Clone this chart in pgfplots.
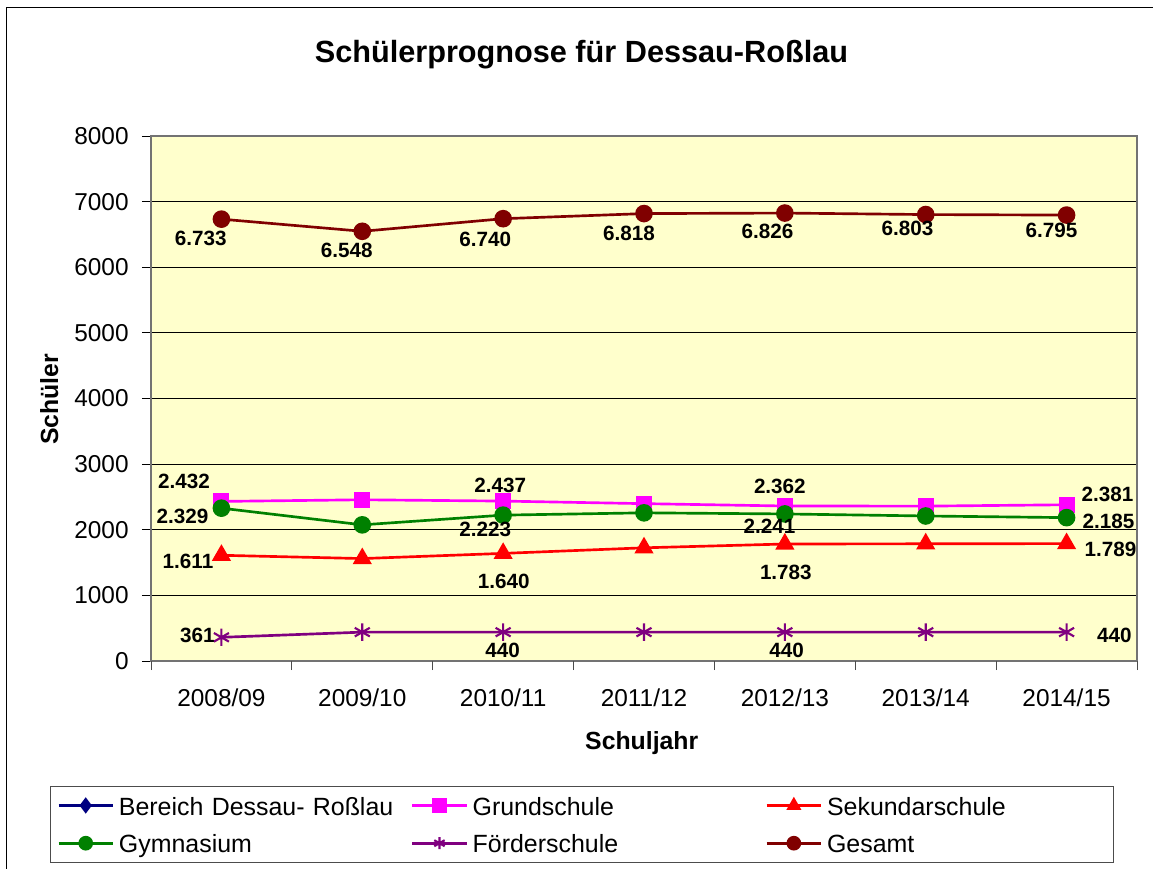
\documentclass[border=0pt]{standalone}
\usepackage{fontspec}
\setmainfont{Liberation Sans}
\usepackage{pgfplots}
\usepackage{pgfplotstable}
\pgfplotsset{compat=1.18}
\definecolor{bgyellow}{RGB}{255,255,204}
\definecolor{cnavy}{RGB}{0,0,128}
\definecolor{cmag}{RGB}{255,0,255}
\definecolor{cred}{RGB}{255,0,0}
\definecolor{cgreen}{RGB}{0,128,0}
\definecolor{cpurple}{RGB}{128,0,128}
\definecolor{cdred}{RGB}{128,0,0}

% series data: x index, value
\pgfplotstableread{
x y
0 2432
1 2457
2 2437
3 2398
4 2362
5 2360
6 2381
}\grund
\pgfplotstableread{
x y
0 1611
1 1561
2 1640
3 1725
4 1783
5 1786
6 1789
}\sek
\pgfplotstableread{
x y
0 2329
1 2075
2 2223
3 2258
4 2241
5 2210
6 2185
}\gym
\pgfplotstableread{
x y
0 361
1 440
2 440
3 440
4 440
5 440
6 440
}\foerder
\pgfplotstableread{
x y
0 6733
1 6548
2 6740
3 6818
4 6826
5 6803
6 6795
}\gesamt

% data labels: x, y, offset (px), text
\pgfplotstableread{
x y dx dy lab
0 2432 -37.4 19.7 2.432
2 2437 -3 16 2.437
4 2362 -5 20 2.362
6 2381 41 10.7 2.381
}\grundlab
\pgfplotstableread{
x y dx dy lab
0 1611 -33.4 -6.4 1.611
2 1640 0.7 -28.3 1.640
4 1783 1 -28.7 1.783
6 1789 44 -5.4 1.789
}\seklab
\pgfplotstableread{
x y dx dy lab
0 2329 -39 -7.8 2.329
2 2223 -18 -14 2.223
4 2241 -15.4 -12 2.241
6 2185 42 -3.4 2.185
}\gymlab
\pgfplotstableread{
x y dx dy lab
0 361 -24 2.3 361
2 440 -0.6 -18.6 440
4 440 1.8 -18.6 440
6 440 47.8 -2.9 440
}\foerderlab
\pgfplotstableread{
x y dx dy lab
0 6733 -20.6 -18.9 6.733
1 6548 -15.6 -19.4 6.548
2 6740 -18 -20.6 6.740
3 6818 -15 -19.4 6.818
4 6826 -17.4 -18.7 6.826
5 6803 -18.3 -13.5 6.803
6 6795 -15 -15 6.795
}\gesamtlab

\pgfplotsset{
  labelplot/.style={
    draw=none, mark=none, forget plot,
    nodes near coords,
    point meta=explicit symbolic,
    visualization depends on={\thisrow{dx} \as \dx},
    visualization depends on={\thisrow{dy} \as \dy},
    every node near coord/.append style={
      anchor=center, inner sep=0pt, text=black,
      font=\fontsize{15.5}{18}\selectfont\bfseries,
      xshift={\dx*0.75pt}, yshift={\dy*0.75pt}},
  },
}

\begin{document}
\begin{tikzpicture}
\path[use as bounding box] (0pt,0pt) rectangle (864.75pt,-651pt);
\draw[black, line width=0.75pt] (4.5pt,-5.25pt) rectangle (880pt,-670pt);

\node[anchor=base, font=\fontsize{23}{27}\selectfont\bfseries] at (436.1pt,-46.5pt) {Schülerprognose für Dessau-Roßlau};
\node[anchor=base, rotate=90, font=\fontsize{18.6}{22}\selectfont\bfseries] at (43.5pt,-299.4pt) {Schüler};
\node[anchor=base, font=\fontsize{18.6}{22}\selectfont\bfseries] at (481.3pt,-562pt) {Schuljahr};

\begin{axis}[
  at={(113.25pt,-495.75pt)}, anchor=south west,
  scale only axis, width=739.5pt, height=393.75pt,
  xmin=-0.5, xmax=6.5, ymin=0, ymax=8000,
  clip=false,
  axis background/.style={fill=bgyellow},
  axis line style={draw=black!55, line width=1.5pt},
  tick pos=left, tick align=outside,
  major tick length=6.75pt,
  ytick={0,1000,...,8000},
  y tick style={black, line width=0.75pt},
  ymajorgrids,
  major grid style={black, line width=0.75pt},
  xtick={0,...,6},
  xticklabels={2008/09,2009/10,2010/11,2011/12,2012/13,2013/14,2014/15},
  x tick style={draw=none},
  extra x ticks={-0.5,0.5,...,6.5},
  extra x tick labels={},
  extra x tick style={x tick style={draw=black!70, line width=0.75pt}, grid=none},
  /pgf/number format/assume math mode=true,
  /pgf/number format/1000 sep={},
  ticklabel style={font=\fontsize{18.3}{22}\selectfont},
  xticklabel style={anchor=base, yshift=-27pt},
  yticklabel style={xshift=-6.5pt},
  legend style={
    at={(-0.1024,-0.238)}, anchor=north west,
    draw=black!70, line width=0.75pt, fill=white,
    font=\fontsize{18.7}{22}\selectfont,
    inner xsep=5pt, inner ysep=5.5pt,
    row sep=10.8pt,
    nodes={inner xsep=0pt, inner ysep=0pt, text height=16pt, text depth=1.5pt},
    /tikz/every odd column/.append style={column sep=3.5pt},
    /tikz/every even column/.append style={column sep=0pt},
  },
  legend columns=3,
  legend cell align=left,
  legend image code/.code={%
    \draw[mark repeat=2,mark phase=2,#1,mark size=4.5pt]
      plot coordinates {(0pt,0pt) (20.4pt,0pt) (40.8pt,0pt)};},
]
\addlegendimage{cnavy, line width=2pt, mark=diamond*, mark size=5.5pt, mark options={solid, fill=cnavy}}
\addlegendentry[text width=219pt]{Bereich Dessau- Roßlau}

\addplot[cmag, line width=2pt, mark=square*, mark size=5pt, mark options={solid, fill=cmag}] table[x=x,y=y] {\grund};
\addlegendentry[text width=219.5pt]{Grundschule}

\addplot[cred, line width=2pt, mark=triangle*, mark size=6.3pt, mark options={solid, fill=cred}] table[x=x,y=y] {\sek};
\addlegendentry[text width=209.5pt]{Sekundarschule}

\addplot[cgreen, line width=2pt, mark=*, mark size=5.6pt, mark options={solid, fill=cgreen}] table[x=x,y=y] {\gym};
\addlegendentry[text width=219pt]{Gymnasium}

\addplot[cpurple, line width=2pt, mark=asterisk, mark size=6.5pt, mark options={solid, line width=1.6pt}] table[x=x,y=y] {\foerder};
\addlegendentry[text width=219.5pt]{Förderschule}

\addplot[cdred, line width=2pt, mark=*, mark size=5.6pt, mark options={solid, fill=cdred}] table[x=x,y=y] {\gesamt};
\addlegendentry[text width=209.5pt]{Gesamt}

\addplot[labelplot] table[x=x,y=y,meta=lab] {\grundlab};
\addplot[labelplot] table[x=x,y=y,meta=lab] {\seklab};
\addplot[labelplot] table[x=x,y=y,meta=lab] {\gymlab};
\addplot[labelplot] table[x=x,y=y,meta=lab] {\foerderlab};
\addplot[labelplot] table[x=x,y=y,meta=lab] {\gesamtlab};
\end{axis}
\end{tikzpicture}
\end{document}
